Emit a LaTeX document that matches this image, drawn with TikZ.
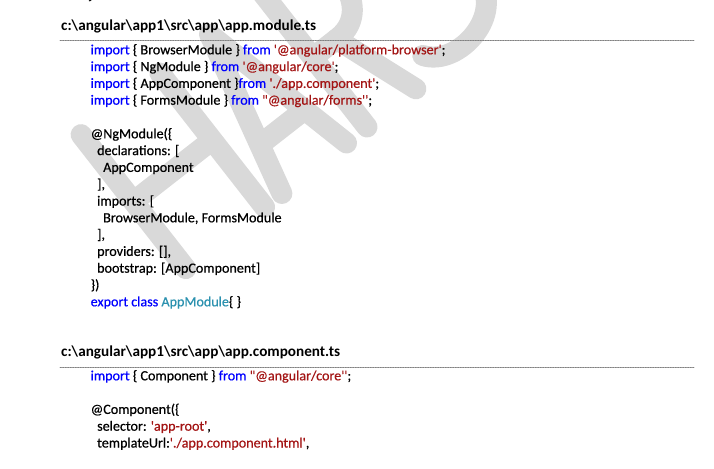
\documentclass[tikz,border=0pt]{standalone}
\usepackage{fontspec}
\setmainfont{Carlito}
\newfontfamily\codefont{Carlito}[FakeBold=0.6]
\usetikzlibrary{positioning}

\definecolor{kwblue}{RGB}{0,0,255}
\definecolor{strred}{RGB}{163,21,21}
\definecolor{clsteal}{RGB}{43,145,175}
\newcommand{\kwd}[1]{\textcolor{kwblue}{#1}}
\newcommand{\strg}[1]{\textcolor{strred}{#1}}
\newcommand{\clsn}[1]{\textcolor{clsteal}{#1}}
\newcommand{\bs}{\textbackslash}

\begin{document}
\begin{tikzpicture}[x=1pt, y=1pt, line cap=round, line join=round]

	\def\lh{16.8}
	\def\xa{90.5}
	\def\xb{97}
	\def\xc{103}

	\tikzset{
		code/.style={anchor=base west, inner sep=0pt, font=\codefont\fontsize{14.1}{16}\selectfont},
		head/.style={anchor=base west, inner sep=0pt, font=\fontsize{15.2}{17}\selectfont\bfseries},
		rule/.style={gray, line width=0.7pt, dash pattern=on 1.5pt off 1pt},
		wm/.style={black!15, line width=21pt}
	}

	\useasboundingbox (0,0) rectangle (714,-468);
	\clip (0,0) rectangle (714,-468);

	% watermark letters, drawn along a tilted baseline
	\begin{scope}[shift={(367,-127)}, rotate=38]
		\draw[wm] (-230,0) -- (-230,170) (-130,0) -- (-130,170) (-230,85) -- (-130,85);
		\draw[wm] (-108,0) -- (-67,170) -- (-26,0) (-95,52) -- (-39,52);
		\draw[wm] (0,0) -- (0,170) -- (32,170) .. controls (82,170) and (82,88) .. (32,88) -- (0,88);
		\draw[wm] (30,88) -- (62,0);
		\draw[wm] (172,152) .. controls (155,172) and (100,175) .. (95,128)
			.. controls (92,95) and (175,95) .. (178,48)
			.. controls (180,5) and (110,-10) .. (88,22);
	\end{scope}

	\node[code] (prev) at (88,0.8) {\}};

	% app.module.ts
	\node[head] (h1) at (61,-31) {c:\bs angular\bs app1\bs src\bs app\bs app.module.ts};
	\draw[rule] (60,-40.5) -- (694,-40.5);

	\node[code] (l1) at (\xa,{-54.3}) {\kwd{import} \{ BrowserModule \} \kwd{from} \strg{\textquotesingle @angular/platform-browser'};};
	\node[code] (l2) at (\xa,{-54.3-\lh}) {\kwd{import} \{ NgModule \} \kwd{from} \strg{\textquotesingle @angular/core'};};
	\node[code] (l3) at (\xa,{-54.3-2*\lh}) {\kwd{import} \{ AppComponent \}\kwd{from} \strg{\textquotesingle ./app.component'};};
	\node[code] (l4) at (\xa,{-54.3-3*\lh}) {\kwd{import} \{ FormsModule \} \kwd{from} \strg{\textquotedbl @angular/forms''};};

	\node[code] (l6) at (\xa,{-54.3-5*\lh}) {@NgModule(\{};
	\node[code] (l7) at (\xb,{-54.3-6*\lh}) {declarations: [};
	\node[code] (l8) at (\xc,{-54.3-7*\lh}) {AppComponent};
	\node[code] (l9) at (\xb,{-54.3-8*\lh}) {],};
	\node[code] (l10) at (\xb,{-54.3-9*\lh}) {imports: [};
	\node[code] (l11) at (\xc,{-54.3-10*\lh}) {BrowserModule, FormsModule};
	\node[code] (l12) at (\xb,{-54.3-11*\lh}) {],};
	\node[code] (l13) at (\xb,{-54.3-12*\lh}) {providers: [],};
	\node[code] (l14) at (\xb,{-54.3-13*\lh}) {bootstrap: [AppComponent]};
	\node[code] (l15) at (\xa,{-54.3-14*\lh}) {\})};
	\node[code] (l16) at (\xa,{-54.3-15*\lh}) {\kwd{export class} \clsn{AppModule}\{ \}};

	% app.component.ts
	\node[head] (h2) at (61,-356.8) {c:\bs angular\bs app1\bs src\bs app\bs app.component.ts};
	\draw[rule] (60,-367.5) -- (694,-367.5);

	\node[code] (m1) at (\xa,{-380.3}) {\kwd{import} \{ Component \} \kwd{from} \strg{\textquotedbl @angular/core''};};
	\node[code] (m3) at (\xa,{-380.3-2*\lh}) {@Component(\{};
	\node[code] (m4) at (\xb,{-380.3-3*\lh}) {selector: \strg{\textquotesingle app-root'},};
	\node[code] (m5) at (\xb,{-380.3-4*\lh}) {templateUrl:\strg{\textquotesingle ./app.component.html'},};

\end{tikzpicture}
\end{document}
